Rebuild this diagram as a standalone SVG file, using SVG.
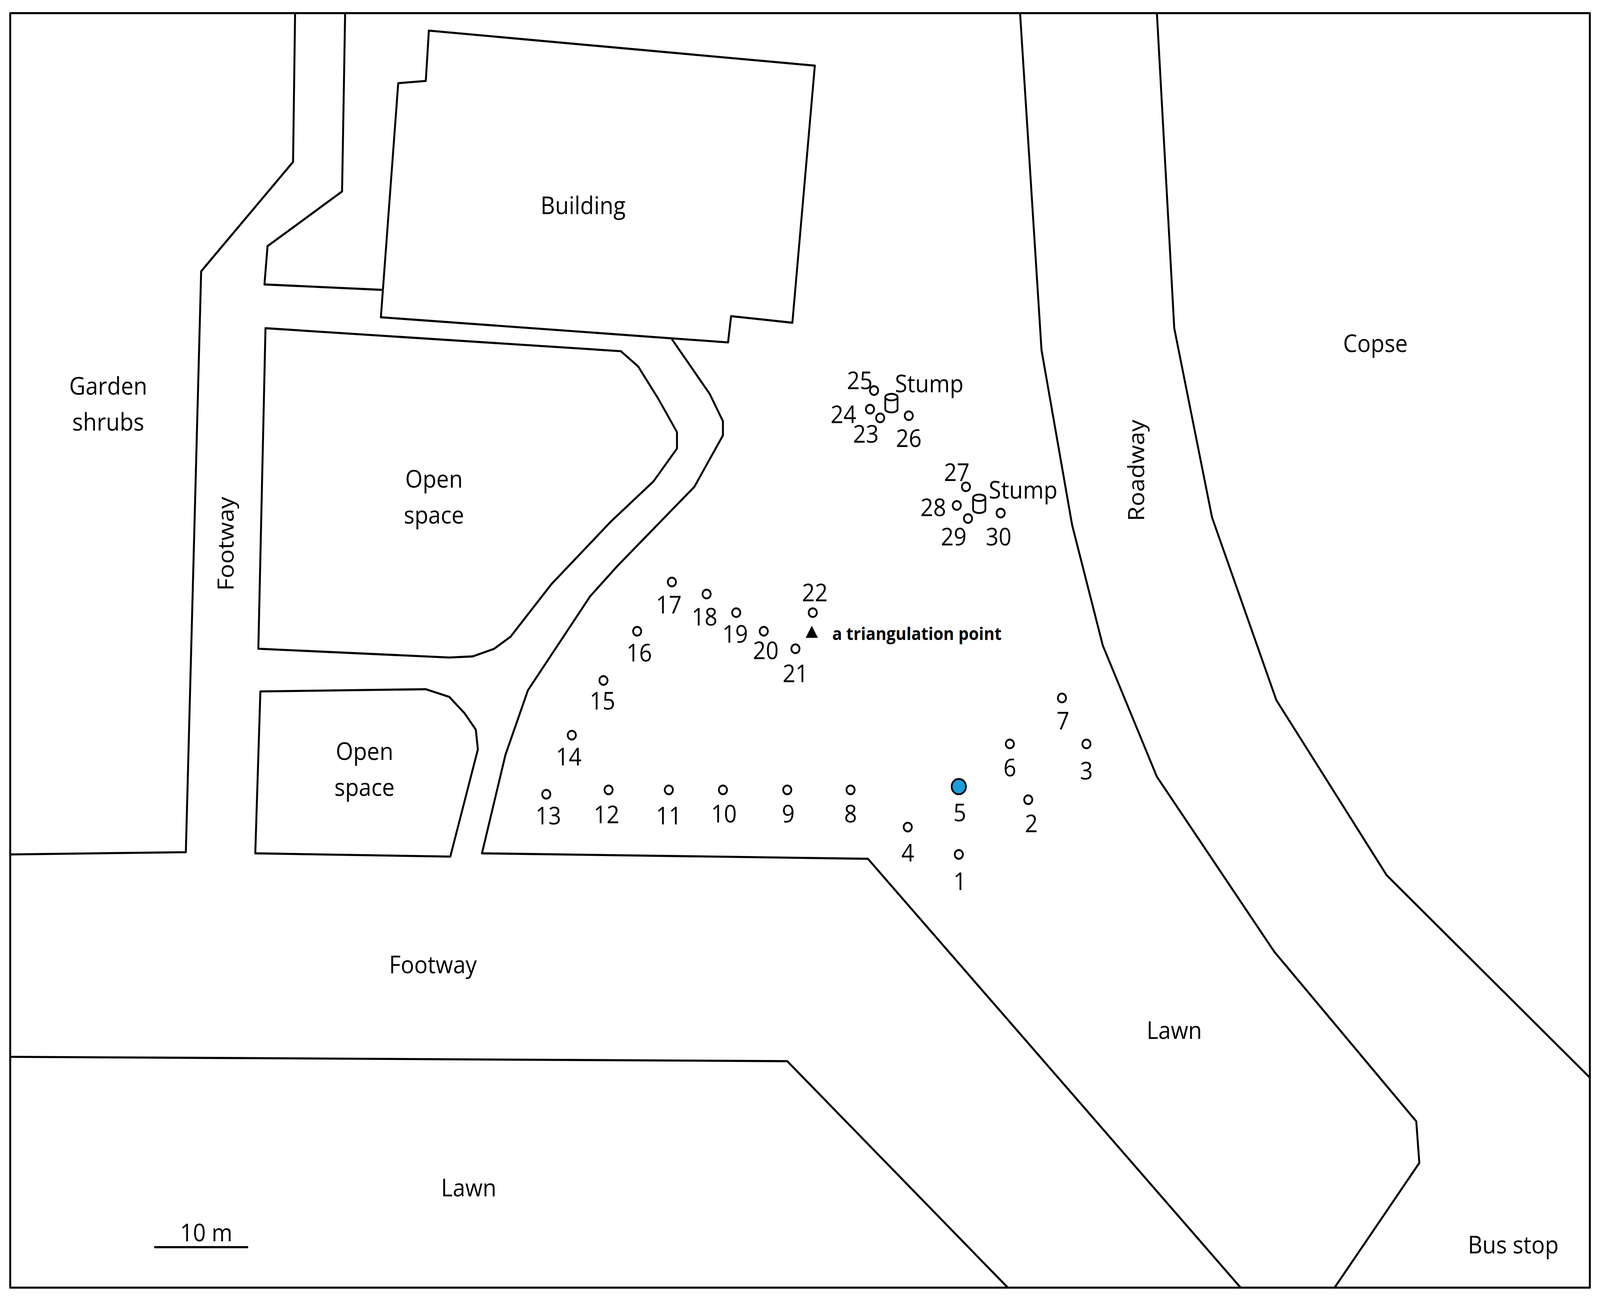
<svg xmlns="http://www.w3.org/2000/svg" width="4389" height="3317" viewBox="0 0 4389 3317">
<style>
.l{fill:none;stroke:#000;stroke-width:1.9;stroke-linejoin:round}
.t{font-family:"Open Sans","Liberation Sans",sans-serif;font-size:22px;text-anchor:middle;dominant-baseline:central;fill:#000}
.p{fill:#fff;stroke:#000;stroke-width:1.7}
</style>
<rect width="4389" height="3317" fill="#fff"/>
<g transform="scale(2.614,2.8)">
<g id="map">
<rect x="10" y="12" width="1547" height="1165" class="l"/>
<path class="l" d="M289,12 L287,148 L197,248 L182,779 L10,781"/>
<path class="l" d="M338,12 L335,175 L262,225 L259,260 L375,265"/>
<path class="l" d="M420,28 L798,60 L776,295 L716,289 L713,313 L373,290 L390,76 L417,74 Z"/>
<path class="l" d="M260,300 L608,321 L625,335 L645,365 L663,395 L663,410 L640,440 L598,477 L540,534 L500,582 L484,593 L463,600 L440,601 L253,593 Z"/>
<path class="l" d="M255,632 L417,630 L440,637 L455,652 L466,667 L468,685 L441,783 L250,780 Z"/>
<path class="l" d="M658,310 L695,360 L708,385 L708,398 L680,445 L605,517 L578,545 L517,631 L495,690 L472,780 L850,785 L1215,1177"/>
<path class="l" d="M10,966 L771,970 L987,1177"/>
<path class="l" d="M999,12 L1020,320 L1050,480 L1080,590 L1133,710 L1248,870 L1387,1025 L1390,1063 L1307,1177"/>
<path class="l" d="M1133,12 L1150,300 L1187,473 L1250,640 L1358,800 L1557,985"/>
<line x1="151" y1="1140" x2="243" y2="1140" class="l"/>
</g>
<g id="labels">
<text class="t" x="571" y="187">Building</text>
<text class="t" x="106" y="352">Garden</text><text class="t" x="106" y="385">shrubs</text>
<text class="t" x="425" y="437">Open</text><text class="t" x="425" y="470">space</text>
<text class="t" x="357" y="686">Open</text><text class="t" x="357" y="719">space</text>
<text class="t" transform="translate(220,497) rotate(-90)">Footway</text>
<text class="t" x="424" y="881">Footway</text>
<text class="t" x="459" y="1085">Lawn</text>
<text class="t" x="1150" y="941">Lawn</text>
<text class="t" x="1347" y="313">Copse</text>
<text class="t" transform="translate(1112,430) rotate(-90)">Roadway</text>
<text class="t" x="1482" y="1137">Bus stop</text>
<text class="t" x="202" y="1126">10 m</text>
<text class="t" x="910" y="350">Stump</text>
<text class="t" x="1002" y="447">Stump</text>
<text x="815" y="585" style="font-family:'Open Sans','Liberation Sans',sans-serif;font-size:16px;font-weight:bold">a triangulation point</text>
</g>
<g id="points">
<circle class="p" cx="939" cy="781" r="4"/><text class="t" x="940" y="805">1</text>
<circle class="p" cx="1007" cy="731" r="4"/><text class="t" x="1010" y="752">2</text>
<circle class="p" cx="1064" cy="680" r="4"/><text class="t" x="1064" y="704">3</text>
<circle class="p" cx="889" cy="756" r="4"/><text class="t" x="889" y="779">4</text>
<circle cx="939" cy="719" r="7" fill="#1a9fdb" stroke="#000" stroke-width="1.7"/><text class="t" x="940" y="742">5</text>
<circle class="p" cx="989" cy="680" r="4"/><text class="t" x="989" y="701">6</text>
<circle class="p" cx="1040" cy="638" r="4"/><text class="t" x="1041" y="658">7</text>
<circle class="p" cx="833" cy="722" r="4"/><text class="t" x="833" y="743">8</text>
<circle class="p" cx="771" cy="722" r="4"/><text class="t" x="772" y="743">9</text>
<circle class="p" cx="708" cy="722" r="4"/><text class="t" x="709" y="743">10</text>
<circle class="p" cx="655" cy="722" r="4"/><text class="t" x="655" y="745">11</text>
<circle class="p" cx="596" cy="722" r="4"/><text class="t" x="594" y="744">12</text>
<circle class="p" cx="535" cy="726" r="4"/><text class="t" x="537" y="745">13</text>
<circle class="p" cx="560" cy="672" r="4"/><text class="t" x="557" y="691">14</text>
<circle class="p" cx="591" cy="622" r="4"/><text class="t" x="590" y="640">15</text>
<circle class="p" cx="624" cy="577" r="4"/><text class="t" x="626" y="596">16</text>
<circle class="p" cx="658" cy="532" r="4"/><text class="t" x="655" y="552">17</text>
<circle class="p" cx="692" cy="543" r="4"/><text class="t" x="690" y="563">18</text>
<circle class="p" cx="721" cy="560" r="4"/><text class="t" x="720" y="579">19</text>
<circle class="p" cx="748" cy="577" r="4"/><text class="t" x="750" y="594">20</text>
<circle class="p" cx="779" cy="593" r="4"/><text class="t" x="779" y="615">21</text>
<circle class="p" cx="796" cy="560" r="4"/><text class="t" x="798" y="541">22</text>
<path d="M795,572 L801,583 L789,583 Z" fill="#000"/>
<circle class="p" cx="862" cy="382" r="4"/><text class="t" x="848" y="396">23</text>
<circle class="p" cx="852" cy="374" r="4"/><text class="t" x="826" y="378">24</text>
<circle class="p" cx="856" cy="357" r="4"/><text class="t" x="842" y="347">25</text>
<circle class="p" cx="890" cy="380" r="4"/><text class="t" x="890" y="400">26</text>
<circle class="p" cx="946" cy="445" r="4"/><text class="t" x="937" y="431">27</text>
<circle class="p" cx="937" cy="462" r="4"/><text class="t" x="914" y="463">28</text>
<circle class="p" cx="948" cy="474" r="4"/><text class="t" x="934" y="490">29</text>
<circle class="p" cx="980" cy="469" r="4"/><text class="t" x="978" y="490">30</text>
<g class="p"><path d="M867,363 L867,374 A6,3 0 0 0 879,374 L879,363"/><ellipse cx="873" cy="363" rx="6" ry="3"/></g>
<g class="p"><path d="M953,455 L953,466 A6,3 0 0 0 965,466 L965,455"/><ellipse cx="959" cy="455" rx="6" ry="3"/></g>
</g>
</g>
</svg>
